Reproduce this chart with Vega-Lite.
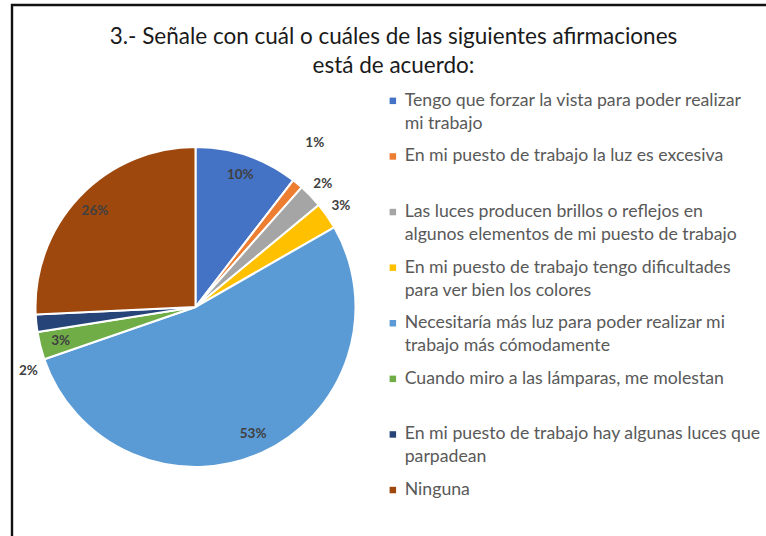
{
  "$schema": "https://vega.github.io/schema/vega-lite/v6.json",
  "width": 391,
  "height": 454,
  "autosize": {"type": "none"},
  "padding": {"left": 0, "top": 80, "right": 375, "bottom": 2},
  "background": "white",
  "config": {
    "style": {"guide-label": {"lineHeight": 23}},
    "legend": {"strokeWidth": 2.4}
  },
  "title": {
    "text": ["3.- Señale con cuál o cuáles de las siguientes afirmaciones", "está de acuerdo:"],
    "anchor": "middle",
    "frame": "group",
    "dx": 198,
    "offset": -74,
    "font": "Lato",
    "fontSize": 22.5,
    "fontWeight": "normal",
    "color": "#1a1a1a",
    "lineHeight": 29
  },
  "data": {
    "values": [
      {"idx": 1, "cat": "Tengo que forzar la vista para poder realizar\nmi trabajo", "pct": 10.45, "label": "10%"},
      {"idx": 2, "cat": "En mi puesto de trabajo la luz es excesiva", "pct": 1.1, "label": "1%"},
      {"idx": 3, "cat": "Las luces producen brillos o reflejos en\nalgunos elementos de mi puesto de trabajo", "pct": 2.45, "label": "2%"},
      {"idx": 4, "cat": "En mi puesto de trabajo tengo dificultades\npara ver bien los colores", "pct": 2.7, "label": "3%"},
      {"idx": 5, "cat": "Necesitaría más luz para poder realizar mi\ntrabajo más cómodamente", "pct": 53.0, "label": "53%"},
      {"idx": 6, "cat": "Cuando miro a las lámparas, me molestan", "pct": 2.8, "label": "3%"},
      {"idx": 7, "cat": "En mi puesto de trabajo hay algunas luces que\nparpadean", "pct": 1.75, "label": "2%"},
      {"idx": 8, "cat": "Ninguna", "pct": 25.75, "label": "26%"}
    ]
  },
  "encoding": {
    "theta": {"field": "pct", "type": "quantitative", "stack": true},
    "order": {"field": "idx", "type": "quantitative"}
  },
  "layer": [
    {
      "mark": {"type": "arc", "outerRadius": 160, "stroke": "white"},
      "encoding": {
        "strokeWidth": {
          "field": "pct",
          "type": "quantitative",
          "scale": {"range": [2, 2]},
          "legend": {
            "orient": "none",
            "legendX": 12,
            "legendY": -75,
            "padding": 1200,
            "strokeColor": "#111111",
            "title": null,
            "labelExpr": "''",
            "symbolOpacity": 0,
            "symbolStrokeWidth": 0
          }
        },
        "color": {
          "field": "cat",
          "type": "nominal",
          "sort": null,
          "scale": {
            "domain": [
              "Tengo que forzar la vista para poder realizar\nmi trabajo",
              "En mi puesto de trabajo la luz es excesiva",
              "Las luces producen brillos o reflejos en\nalgunos elementos de mi puesto de trabajo",
              "En mi puesto de trabajo tengo dificultades\npara ver bien los colores",
              "Necesitaría más luz para poder realizar mi\ntrabajo más cómodamente",
              "Cuando miro a las lámparas, me molestan",
              "En mi puesto de trabajo hay algunas luces que\nparpadean",
              "Ninguna"
            ],
            "range": ["#4472C4", "#ED7D31", "#A5A5A5", "#FFC000", "#5B9BD5", "#70AD47", "#264478", "#9E480E"]
          },
          "legend": {
            "orient": "none",
            "legendX": 384,
            "legendY": 12,
            "padding": 0,
            "title": null,
            "columns": 1,
            "gridAlign": "all",
            "symbolType": "square",
            "symbolSize": 42,
            "symbolStrokeWidth": 0,
            "labelFont": "Lato",
            "labelFontSize": 17.7,
            "labelColor": "#595959",
            "labelLimit": 500,
            "labelOffset": 3,
            "labelBaseline": "middle",
            "labelExpr": "split(datum.label, '\\n')",
            "rowPadding": 13.6
          }
        }
      }
    },
    {
      "mark": {"type": "text", "radius": 139, "font": "Lato", "fontSize": 13.5, "fontWeight": "bold", "color": "#404040"},
      "encoding": {"text": {"condition": {"test": "indexof([1, 5, 6, 8], datum.idx) >= 0", "field": "label"}, "value": ""}}
    },
    {
      "mark": {"type": "text", "radius": 177, "font": "Lato", "fontSize": 13.5, "fontWeight": "bold", "color": "#404040"},
      "encoding": {"text": {"condition": {"test": "indexof([3, 4], datum.idx) >= 0", "field": "label"}, "value": ""}}
    },
    {
      "mark": {"type": "text", "radius": 203, "thetaOffset": -0.063, "font": "Lato", "fontSize": 13.5, "fontWeight": "bold", "color": "#404040"},
      "encoding": {"text": {"condition": {"test": "datum.idx == 2", "field": "label"}, "value": ""}}
    },
    {
      "mark": {"type": "text", "radius": 179, "thetaOffset": -0.265, "font": "Lato", "fontSize": 13.5, "fontWeight": "bold", "color": "#404040"},
      "encoding": {"text": {"condition": {"test": "datum.idx == 7", "field": "label"}, "value": ""}}
    }
  ]
}
